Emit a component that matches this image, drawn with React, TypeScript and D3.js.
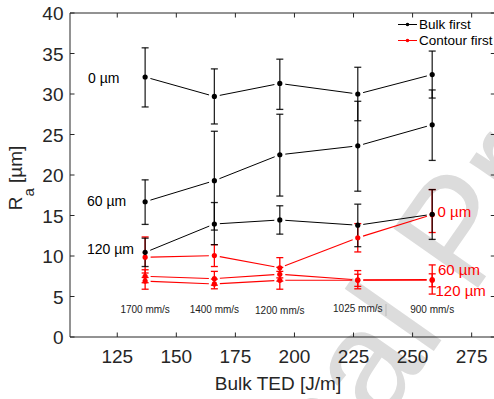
import React from "react";
import * as d3 from "d3";

// Bulk track energy density (J/m) for each scan speed
const TED = [136.8, 166.1, 193.8, 226.8, 258.3];
const SPEED_LABELS = ["1700 mm/s", "1400 mm/s", "1200 mm/s", "1025 mm/s", "900 mm/s"];
const SPEED_LABEL_Y = [313, 313, 313.5, 312, 312.5];

// Bulk first: mean Ra and error-bar limits for each contour offset
const BULK_0 = [32.1, 29.7, 31.3, 30.0, 32.4];
const BULK_0_LO = [28.4, 26.3, 28.1, 26.7, 29.5];
const BULK_0_HI = [35.7, 33.1, 34.3, 33.3, 35.3];
const BULK_60 = [16.7, 19.3, 22.5, 23.6, 26.2];
const BULK_60_LO = [13.9, 13.2, 17.4, 18.0, 21.8];
const BULK_60_HI = [19.4, 25.4, 27.5, 29.1, 30.5];
const BULK_120 = [10.45, 13.95, 14.45, 13.8, 15.15];
const BULK_120_LO = [8.7, 11.4, 12.7, 11.15, 12.05];
const BULK_120_HI = [12.2, 16.6, 16.2, 16.4, 18.2];

// Contour first
const CONT_0 = [9.85, 10.05, 8.55, 12.25, 15.1];
const CONT_0_LO = [7.35, 8.7, 7.3, 10.5, 12.9];
const CONT_0_HI = [12.35, 11.4, 9.8, 14.0, 18.2];
const CONT_60 = [7.5, 7.2, 7.75, 7.05, 7.1];
const CONT_60_LO = [6.7, 6.4, 6.9, 5.95, 5.3];
const CONT_60_HI = [8.3, 8.1, 8.6, 8.2, 8.9];
const CONT_120 = [6.9, 6.55, 7.0, 7.0, 7.0];
const CONT_120_LO = [5.9, 5.95, 5.9, 6.25, 6.2];
const CONT_120_HI = [7.9, 7.15, 8.1, 7.75, 7.8];

const X_TICKS = [125, 150, 175, 200, 225, 250, 275];
const Y_TICKS = [0, 5, 10, 15, 20, 25, 30, 35, 40];

const FONT = "'Liberation Sans', Arial, Helvetica, sans-serif";
const AXIS = "#262626";
const RED = "#ff0000";

const W = 494;
const H = 399;
const left = 70;
const top = 13;
const bottom = 337;

const x = d3.scaleLinear().domain([105, 285]).range([left, left + 180 * 2.3627]);
const y = d3.scaleLinear().domain([0, 40]).range([bottom, top]);

type Series = { v: number[]; lo: number[]; hi: number[] };

const bulkSeries: Series[] = [
  { v: BULK_0, lo: BULK_0_LO, hi: BULK_0_HI },
  { v: BULK_60, lo: BULK_60_LO, hi: BULK_60_HI },
  { v: BULK_120, lo: BULK_120_LO, hi: BULK_120_HI },
];
const contSeries: Series[] = [
  { v: CONT_0, lo: CONT_0_LO, hi: CONT_0_HI },
  { v: CONT_60, lo: CONT_60_LO, hi: CONT_60_HI },
  { v: CONT_120, lo: CONT_120_LO, hi: CONT_120_HI },
];

// Connecting segments stop short of each marker
function segments(v: number[], gap: number) {
  const out: { x1: number; y1: number; x2: number; y2: number }[] = [];
  for (let i = 0; i < v.length - 1; i++) {
    const ax = x(TED[i]), ay = y(v[i]);
    const bx = x(TED[i + 1]), by = y(v[i + 1]);
    const len = Math.hypot(bx - ax, by - ay);
    const ux = (bx - ax) / len, uy = (by - ay) / len;
    out.push({ x1: ax + ux * gap, y1: ay + uy * gap, x2: bx - ux * gap, y2: by - uy * gap });
  }
  return out;
}

function ErrorBars({ s, color, opacity }: { s: Series; color: string; opacity: number }) {
  const cap = 3.5;
  return (
    <g stroke={color} strokeWidth={1.3} strokeOpacity={opacity} fill="none">
      {TED.map((t, i) => {
        const cx = x(t);
        return (
          <g key={i}>
            <line x1={cx} x2={cx} y1={y(s.lo[i])} y2={y(s.hi[i])} />
            <line x1={cx - cap} x2={cx + cap} y1={y(s.lo[i])} y2={y(s.lo[i])} />
            <line x1={cx - cap} x2={cx + cap} y1={y(s.hi[i])} y2={y(s.hi[i])} />
          </g>
        );
      })}
    </g>
  );
}

function Lines({ s, color, width }: { s: Series; color: string; width: number }) {
  return (
    <g stroke={color} strokeWidth={width}>
      {segments(s.v, 5.5).map((d, i) => (
        <line key={i} {...d} />
      ))}
    </g>
  );
}

function Dots({ s, color }: { s: Series; color: string }) {
  return (
    <g fill={color}>
      {TED.map((t, i) => (
        <circle key={i} cx={x(t)} cy={y(s.v[i])} r={2.6} />
      ))}
    </g>
  );
}

export default function App() {
  const xr = x.range()[1];
  const tick = 4.5;
  return (
    <svg
      width={W}
      height={H}
      style={{ position: "absolute", left: 0, top: 0, background: "#fff" }}
      fontFamily={FONT}
    >
      {/* page watermark */}
      <text
        x={165}
        y={735}
        transform="rotate(-55 165 735)"
        fontSize={150}
        fill="#dcdcdc"
      >
        Journal Pre-proof
      </text>

      {/* axes box */}
      <g stroke={AXIS} strokeWidth={1} fill="none">
        <line x1={left} x2={xr} y1={bottom} y2={bottom} />
        <line x1={left} x2={xr} y1={top} y2={top} />
        <line x1={left} x2={left} y1={top} y2={bottom} />
        <line x1={xr} x2={xr} y1={top} y2={bottom} />
        {X_TICKS.map((t) => (
          <g key={t}>
            <line x1={x(t)} x2={x(t)} y1={bottom} y2={bottom - tick} />
            <line x1={x(t)} x2={x(t)} y1={top} y2={top + tick} />
          </g>
        ))}
        {Y_TICKS.map((t) => (
          <g key={t}>
            <line x1={left} x2={left + tick} y1={y(t)} y2={y(t)} />
            <line x1={xr} x2={xr - tick} y1={y(t)} y2={y(t)} />
          </g>
        ))}
      </g>
      <g fill={AXIS} fontSize={19}>
        {X_TICKS.map((t) => (
          <text key={t} x={x(t)} y={363} textAnchor="middle">
            {t}
          </text>
        ))}
        {Y_TICKS.map((t) => (
          <text key={t} x={63.5} y={y(t) + 7} textAnchor="end">
            {t}
          </text>
        ))}
      </g>
      <text x={278} y={390} textAnchor="middle" fontSize={19} fill={AXIS}>
        Bulk TED [J/m]
      </text>
      <text transform="translate(22,178) rotate(-90)" textAnchor="middle" fontSize={19} fill={AXIS}>
        R
        <tspan fontSize={15} dy={12}>a</tspan>
        <tspan dy={-12}> [µm]</tspan>
      </text>

      {/* error bars */}
      {contSeries.map((s, i) => (
        <ErrorBars key={"ce" + i} s={s} color={RED} opacity={1} />
      ))}
      {bulkSeries.map((s, i) => (
        <ErrorBars key={"be" + i} s={s} color="#000" opacity={0.85} />
      ))}

      {/* series lines and markers */}
      {contSeries.map((s, i) => (
        <Lines key={"cl" + i} s={s} color={RED} width={1.1} />
      ))}
      {contSeries.map((s, i) => (
        <Dots key={"cd" + i} s={s} color={RED} />
      ))}
      {bulkSeries.map((s, i) => (
        <Lines key={"bl" + i} s={s} color="#000" width={1} />
      ))}
      {bulkSeries.map((s, i) => (
        <Dots key={"bd" + i} s={s} color="#000" />
      ))}

      {/* offset annotations */}
      <g fontSize={14} fill="#000">
        <text x={88} y={83}>0 µm</text>
        <text x={87} y={206}>60 µm</text>
        <text x={87} y={254}>120 µm</text>
      </g>
      <g fontSize={15} fill={RED}>
        <text x={437.5} y={216.5}>0 µm</text>
        <text x={438} y={275}>60 µm</text>
        <text x={435.5} y={296}>120 µm</text>
      </g>

      {/* scan speeds */}
      <g fontSize={10} fill="#222">
        {SPEED_LABELS.map((s, i) => (
          <text key={s} x={x(TED[i])} y={SPEED_LABEL_Y[i]} textAnchor="middle">
            {s}
          </text>
        ))}
      </g>
      <line x1={386} x2={386} y1={304} y2={316} stroke="#bbb" strokeWidth={1} />

      {/* legend */}
      <g>
        <line x1={398} x2={417} y1={24.5} y2={24.5} stroke="#000" strokeWidth={1} />
        <circle cx={407.5} cy={24.5} r={1.8} fill="#000" />
        <text x={419} y={29} fontSize={13.5} fill="#000">Bulk first</text>
        <line x1={398} x2={417} y1={40.5} y2={40.5} stroke={RED} strokeWidth={1} />
        <circle cx={407.5} cy={40.5} r={1.8} fill={RED} />
        <text x={419} y={45} fontSize={13.5} fill="#000">Contour first</text>
      </g>
    </svg>
  );
}
